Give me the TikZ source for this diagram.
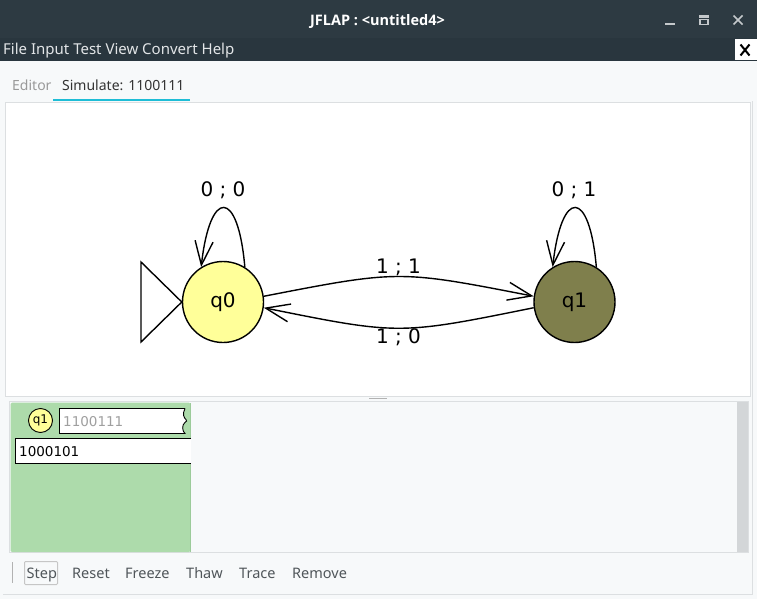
\documentclass[tikz,border=0pt]{standalone}
\usepackage{fontspec}
\setmainfont{Noto Sans}
\newfontfamily\dejavu{DejaVu Sans}
\newfontfamily\titlefont{Open Sans}
\usetikzlibrary{arrows.meta}
\definecolor{titlebg}{HTML}{2D3A42}
\definecolor{menubg}{HTML}{29363E}
\definecolor{winbg}{HTML}{F7F9FA}
\definecolor{panelline}{HTML}{DCDFE1}
\definecolor{tabcyan}{HTML}{1EBDD6}
\definecolor{cfggreen}{HTML}{ADDBAB}
\definecolor{cfgline}{HTML}{9CCB9A}
\definecolor{scrollgray}{HTML}{D3D6D8}
\definecolor{stateyellow}{HTML}{FFFF99}
\definecolor{stateolive}{HTML}{7F7F4C}
\definecolor{uitext}{HTML}{50565A}
\definecolor{titlegray}{HTML}{C4C8CB}
\definecolor{menutext}{HTML}{E2E5E7}
\begin{document}
\begin{tikzpicture}[x=1pt,y=-1pt,
  state/.style={circle,draw=black,line width=1.4pt,minimum size=81pt,inner sep=0pt,font=\dejavu\fontsize{20}{24}\selectfont},
  trans/.style={line width=1.4pt,-{Straight Barb[length=24pt,width=18pt,line width=1.4pt]}},
  tlabel/.style={inner sep=0pt,font=\dejavu\fontsize{20}{24}\selectfont},
  uilabel/.style={inner sep=0pt,anchor=base west,font=\fontsize{14}{16}\selectfont},
  btnlabel/.style={inner sep=0pt,anchor=base west,text=uitext,font=\fontsize{14.5}{17}\selectfont}]
\useasboundingbox (0,0) rectangle (757,599);
% window background
\fill[winbg] (0,0) rectangle (757,599);
\fill[titlebg] (0,0) rectangle (757,38.5);
\fill[menubg] (0,38.5) rectangle (757,61);
% title
\node[inner sep=0pt,anchor=base,text=white,font=\titlefont\bfseries\fontsize{14.5}{16}\selectfont] (title) at (377.5,25.5) {JFLAP : <untitled4>};
\draw[titlegray,line width=2pt] (665,24) -- (675,24);
\fill[titlegray] (699,15.5) rectangle (709,18);
\draw[titlegray,line width=1.4pt] (700,19.5) rectangle (708,24.5);
\draw[titlegray,line width=1.6pt] (733.5,15.5) -- (742.5,24.5) (733.5,24.5) -- (742.5,15.5);
% menu
\node[uilabel,text=menutext,font=\fontsize{15}{17}\selectfont] (menu) at (3,55) {File Input Test View Convert Help};
\fill[white] (735,39.5) rectangle (757,60);
\draw[black,line width=2pt] (740.5,44.5) -- (749.5,55.5) (740.5,55.5) -- (749.5,44.5);
% tabs
\node[uilabel,text=gray!80] (tabed) at (12,90.5) {Editor};
\node[uilabel,text=black!80] (tabsim) at (62,90.5) {Simulate: 1100111};
\fill[tabcyan] (53,99) rectangle (190,101.5);
% canvas
\draw[panelline,fill=white] (5,102.5) rectangle (750.5,396.5);
\fill[gray!60] (369,397.5) rectangle (387,399);
% automaton
\node[state,fill=stateyellow] (q0) at (223,302) {q0};
\node[state,fill=stateolive] (q1) at (574.5,302) {q1};
\draw[line width=1.4pt] (q0.west) -- (141,262) -- (141,342) -- cycle;
\draw[trans] (q0.58) .. controls (238,188) and (210,188) .. (q0.122);
\draw[trans] (q1.58) .. controls (589.5,188) and (561.5,188) .. (q1.122);
\draw[trans] (q0.8) .. controls (399,270) .. (q1.172);
\draw[trans] (q1.188) .. controls (399,335) .. (q0.352);
\node[tlabel] (l00) at (223,190) {0 ; 0};
\node[tlabel] (l01) at (574,190) {0 ; 1};
\node[tlabel] (l11) at (398.5,267) {1 ; 1};
\node[tlabel] (l10) at (398.5,337.5) {1 ; 0};
% lower panel
\draw[panelline,fill=winbg] (9,401.5) rectangle (748.5,552.5);
\fill[scrollgray] (737,402) rectangle (748,552);
\fill[cfggreen,rounded corners=1.5pt] (10.5,402.5) rectangle (190.5,552);
\draw[cfgline,line width=0.8pt] (190.5,403) -- (190.5,551.5);
% configuration contents
\node[circle,draw=black,line width=0.9pt,fill=stateyellow,minimum size=24pt,inner sep=0pt,font=\dejavu\fontsize{12}{14}\selectfont] (cq) at (40.5,420.5) {q1};
\draw[black,line width=0.9pt,fill=white] (185,408.5) -- (59.5,408.5) -- (59.5,433.5) -- (185,433.5)
  .. controls (182,431) and (182,425) .. (184.5,423) .. controls (187,421) .. (186,419.5)
  .. controls (184,418) and (182,414) .. (185,408.5);
\node[inner sep=0pt,anchor=base west,text=gray!75,font=\dejavu\fontsize{13.5}{16}\selectfont] (tape) at (63,426) {1100111};
\draw[black,line width=0.9pt,fill=white] (191,438.5) -- (15.5,438.5) -- (15.5,463.5) -- (191,463.5);
\node[inner sep=0pt,anchor=base west,text=black,font=\dejavu\fontsize{13.5}{16}\selectfont] (out) at (19,456) {1000101};
% toolbar
\fill[gray!60] (12,562) rectangle (13.2,583);
\draw[gray!45,line width=1pt,rounded corners=1pt] (24.5,561.5) rectangle (57.5,584.5);
\node[btnlabel] (bstep) at (26.5,578) {Step};
\node[btnlabel] (breset) at (72,578) {Reset};
\node[btnlabel] (bfreeze) at (125,578) {Freeze};
\node[btnlabel] (bthaw) at (186,578) {Thaw};
\node[btnlabel] (btrace) at (239,578) {Trace};
\node[btnlabel] (bremove) at (292,578) {Remove};
% outer frame
\draw[panelline,line width=1pt] (3,594.5) -- (752.5,594.5) -- (752.5,101);
\end{tikzpicture}
\end{document}
